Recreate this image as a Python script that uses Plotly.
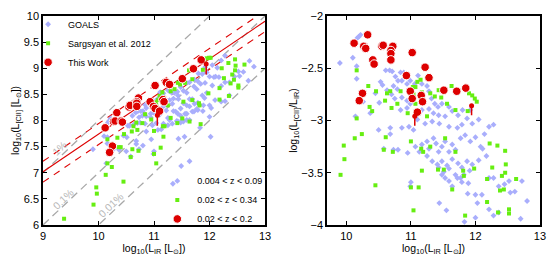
import plotly.graph_objects as go

# ---------------- data (log10 L_IR, log10 L_CII/L_IR) ----------------
goals_lir = [9.90, 10.10, 10.17, 10.19, 10.22, 10.16, 10.16, 10.14, 10.26, 10.37,
             10.53, 10.56, 10.45, 10.51, 10.61, 10.67, 10.71, 10.84, 10.89, 10.76,
             10.80, 10.86, 10.94, 10.99, 10.73, 10.79, 10.63, 10.70, 10.75, 10.86,
             10.94, 10.84, 10.94, 10.99, 11.06, 11.11, 11.17, 11.25, 11.28, 11.32,
             11.37, 11.42, 11.48, 11.28, 11.35, 11.43, 11.17, 11.10, 11.22, 11.33,
             11.44, 11.53, 11.59, 11.64, 11.73, 11.80, 11.87, 11.92, 11.95, 12.05,
             12.21, 12.28, 10.86, 10.97, 11.04, 10.68, 10.50, 11.59, 11.72, 11.79,
             10.68, 10.58, 10.73, 10.80, 10.95, 11.00, 10.99, 11.07, 11.13, 11.17,
             11.25, 11.28, 11.35, 11.39, 11.43, 11.48, 11.53, 11.59, 11.64, 11.69,
             11.77, 11.84, 11.92, 12.00, 12.08, 12.14, 11.25, 11.33, 11.41, 11.48,
             11.56, 11.64, 11.73, 11.79, 11.87, 11.95, 12.05, 12.11, 12.17, 11.43,
             11.51, 11.59, 11.69, 11.77, 11.82, 11.91, 11.59, 11.64, 11.72, 11.79,
             11.89, 11.48, 11.53, 11.44, 11.55, 11.88, 12.00, 12.10, 12.03, 12.21,
             12.28, 12.36, 11.83, 12.00, 12.21, 12.28, 12.36, 12.45, 12.52, 12.61,
             12.72, 12.80, 12.70, 12.54, 11.34, 11.49, 11.64, 12.02]
goals_ratio = [-2.45, -2.40, -2.21, -2.20, -2.18, -2.48, -2.60, -2.96, -2.82, -2.93,
               -2.63, -2.66, -2.74, -2.83, -2.52, -2.52, -2.53, -2.54, -2.54, -2.58,
               -2.62, -2.62, -2.65, -2.62, -2.67, -2.70, -2.71, -2.75, -2.79, -2.78,
               -2.81, -2.90, -2.88, -2.84, -2.65, -2.57, -2.65, -2.67, -2.72, -2.79,
               -2.84, -2.87, -2.84, -2.89, -2.93, -2.95, -2.90, -2.99, -3.03, -3.01,
               -3.03, -2.96, -2.87, -2.91, -2.95, -2.90, -2.98, -2.90, -3.03, -2.99,
               -3.06, -3.04, -3.07, -3.06, -3.09, -3.07, -3.09, -3.06, -3.07, -3.04,
               -3.13, -3.27, -3.28, -3.28, -3.31, -3.59, -3.63, -3.25, -3.30, -3.23,
               -3.20, -3.27, -3.17, -3.22, -3.30, -3.25, -3.20, -3.30, -3.23, -3.28,
               -3.17, -3.14, -3.20, -3.16, -3.25, -3.13, -3.34, -3.39, -3.42, -3.39,
               -3.43, -3.37, -3.41, -3.45, -3.39, -3.42, -3.38, -3.27, -3.34, -3.45,
               -3.49, -3.46, -3.52, -3.55, -3.52, -3.48, -3.58, -3.63, -3.55, -3.59,
               -3.60, -3.52, -3.55, -3.79, -3.86, -3.70, -3.71, -3.71, -3.79, -3.85,
               -3.91, -3.88, -3.97, -3.93, -3.55, -3.55, -3.63, -3.61, -3.58, -3.68,
               -3.58, -3.77, -3.94, -3.69, -4.55, -4.36, -4.42, -4.33]

sarg_lir = [10.16, 10.16, 10.34, 10.46, 10.36, 10.40, 10.63, 10.68, 10.60, 10.70,
            10.84, 10.79, 10.95, 11.03, 11.07, 11.10, 11.15, 11.04, 11.07, 11.17,
            11.17, 11.30, 11.37, 11.25, 11.43, 11.47, 11.63, 11.56, 11.69, 11.90,
            11.95, 11.99, 12.02, 11.88, 10.13, 10.24, 9.96, 9.97, 9.91, 10.45,
            10.58, 10.72, 10.61, 11.00, 11.00, 11.12, 11.16, 11.19, 11.30, 11.17,
            11.04, 11.42, 11.51, 11.53, 11.64, 11.69, 11.81, 11.82, 11.98, 11.84,
            12.18, 12.18, 12.22, 12.26, 12.34, 12.41, 12.47, 12.46, 12.46, 12.38,
            12.44, 12.35, 12.52, 12.52, 12.63, 9.38]
sarg_ratio = [-2.52, -2.98, -2.67, -2.72, -2.87, -2.91, -2.74, -2.72, -2.81, -2.88,
              -2.72, -2.84, -2.93, -2.68, -2.68, -2.63, -2.61, -2.75, -2.84, -2.82,
              -2.73, -2.74, -2.77, -2.96, -2.71, -2.78, -2.67, -2.84, -2.90, -2.74,
              -2.76, -2.79, -2.82, -2.91, -3.17, -3.13, -3.24, -3.37, -3.52, -3.62,
              -3.28, -3.30, -3.16, -3.20, -3.64, -3.64, -3.27, -3.30, -3.25, -3.48,
              -3.86, -3.47, -3.47, -3.17, -3.66, -3.30, -3.48, -3.53, -3.46, -3.91,
              -3.56, -3.78, -3.22, -3.45, -3.24, -3.53, -3.42, -3.29, -3.50, -3.67,
              -3.66, -3.88, -3.85, -3.89, -3.56, -3.26]

work_lir = [10.12, 10.33, 10.27, 10.30, 10.41, 10.43, 10.55, 10.57, 10.72, 10.69,
            10.69, 10.69, 11.02, 11.22, 10.93, 11.28, 10.25, 10.20, 10.99, 11.16,
            11.02, 11.18, 11.51, 11.71, 11.85, 11.10]
work_ratio = [-2.26, -2.18, -2.29, -2.31, -2.42, -2.46, -2.29, -2.28, -2.29, -2.33,
              -2.36, -2.42, -2.35, -2.49, -2.57, -2.59, -2.74, -2.81, -2.72, -2.76,
              -2.79, -2.82, -2.71, -2.72, -2.69, -2.92]

lim_lir = [11.06, 11.94]       # upper limits
lim_ratio = [-2.96, -2.86]

fit_slope, fit_intercept, fit_scatter = 0.72, 0.54, 0.2
ratio_lines = [-2, -3, -4]
ratio_labels = ["1%", "0.1%", "0.01%"]
label_lir = [9.30, 9.36, 10.22]
label_lcii = [7.47, 6.50, 6.38]

legend1_names = ["GOALS", "Sargsyan et al. 2012", "This Work"]
legend2_names = ["0.004 < z < 0.09", "0.02 < z < 0.34", "0.02 < z < 0.2"]

# ---------------- styles ----------------
BLUE = "#a9aefc"
GREEN = "#66ee11"
RED = "#dd0000"
GREY = "#a8a8a8"
FONT = "Liberation Sans, Arial, sans-serif"

sty = [
    dict(symbol="diamond", size=4.5, color=BLUE, line=dict(width=0)),
    dict(symbol="square", size=4, color=GREEN, line=dict(width=0)),
    dict(symbol="circle", size=8.5, color=RED, line=dict(width=1, color="white")),
]

lcii = lambda lir, r: [a + b for a, b in zip(lir, r)]

fig = go.Figure()

# ---- left panel reference lines ----
xl = [9, 13]
for r in ratio_lines:
    fig.add_trace(go.Scatter(x=xl, y=[x + r for x in xl], mode="lines",
                             line=dict(color=GREY, width=1.3, dash="8px,5px"),
                             showlegend=False, hoverinfo="skip", xaxis="x", yaxis="y"))
fig.add_trace(go.Scatter(x=xl, y=[fit_slope * x + fit_intercept for x in xl], mode="lines",
                         line=dict(color=RED, width=1.1), showlegend=False,
                         hoverinfo="skip", xaxis="x", yaxis="y"))
for s in (fit_scatter, -fit_scatter):
    fig.add_trace(go.Scatter(x=xl, y=[fit_slope * x + fit_intercept + s for x in xl],
                             mode="lines", line=dict(color=RED, width=1.1, dash="7px,6px"),
                             showlegend=False, hoverinfo="skip", xaxis="x", yaxis="y"))

datasets = [(goals_lir, goals_ratio), (sarg_lir, sarg_ratio), (work_lir, work_ratio)]

for i, (lx, lr) in enumerate(datasets):
    fig.add_trace(go.Scatter(x=lx, y=lcii(lx, lr), mode="markers", marker=sty[i],
                             name=legend1_names[i], legend="legend",
                             xaxis="x", yaxis="y", cliponaxis=True))
    fig.add_trace(go.Scatter(x=lx, y=lr, mode="markers", marker=sty[i],
                             showlegend=False, xaxis="x2", yaxis="y2", cliponaxis=True))

# upper limits
fig.add_trace(go.Scatter(x=lim_lir, y=lcii(lim_lir, lim_ratio), mode="markers",
                         marker=dict(symbol="circle", size=5, color=RED),
                         error_y=dict(type="data", symmetric=False, array=[0, 0],
                                      arrayminus=[0.2, 0.2], color=RED, thickness=1.5, width=0),
                         showlegend=False, xaxis="x", yaxis="y"))
fig.add_trace(go.Scatter(x=lim_lir, y=lim_ratio, mode="markers",
                         marker=dict(symbol="circle", size=5, color=RED),
                         error_y=dict(type="data", symmetric=False, array=[0, 0],
                                      arrayminus=[0.09, 0.09], color=RED, thickness=1.5, width=0),
                         showlegend=False, xaxis="x2", yaxis="y2"))

# second legend (redshift ranges)
for i in range(3):
    fig.add_trace(go.Scatter(x=[None], y=[None], mode="markers", marker=sty[i],
                             name=legend2_names[i], legend="legend2",
                             xaxis="x", yaxis="y"))

for t, x, y in zip(ratio_labels, label_lir, label_lcii):
    fig.add_annotation(x=x, y=y, xref="x", yref="y", text=t, showarrow=False,
                       textangle=-44, font=dict(family=FONT, size=10.5, color="#b8b8b8"))

ax = dict(showline=True, linecolor="black", linewidth=1.5, mirror="ticks",
          ticks="inside", ticklen=4, tickwidth=1.2, tickcolor="black",
          showgrid=False, zeroline=False, automargin=False,
          tickfont=dict(family=FONT, size=11, color="black"))
sub = "<sub>10</sub>"
fig.update_layout(
    width=551, height=260,
    margin=dict(l=43, r=11, t=10, b=35),
    paper_bgcolor="white", plot_bgcolor="white",
    font=dict(family=FONT, color="black"),
    xaxis=dict(**ax, domain=[0, 0.4467], range=[9, 13], dtick=1,
               title=dict(text=f"log{sub}(L<sub>IR</sub> [L<sub>⊙</sub>])",
                          font=dict(size=10.5), standoff=2)),
    yaxis=dict(**ax, range=[6, 10], dtick=0.5,
               title=dict(text=f"log{sub}(L<sub>[CII]</sub> [L<sub>⊙</sub>])",
                          font=dict(size=10.5), standoff=2)),
    xaxis2=dict(**ax, domain=[0.5714, 1], range=[9.7, 13], dtick=1, anchor="y2",
                title=dict(text=f"log{sub}(L<sub>IR</sub> [L<sub>⊙</sub>])",
                           font=dict(size=10.5), standoff=2)),
    yaxis2=dict(**ax, range=[-4, -2], dtick=0.5, anchor="x2",
                title=dict(text=f"log{sub}(L<sub>[CII]</sub>/L<sub>IR</sub>)",
                           font=dict(size=10.5), standoff=2)),
    legend=dict(x=-0.03, y=1.03, xanchor="left", yanchor="top",
                bgcolor="rgba(0,0,0,0)", font=dict(family=FONT, size=9),
                itemwidth=30, tracegroupgap=0),
    legend2=dict(x=0.23, y=0.12, xanchor="left", yanchor="middle",
                 bgcolor="rgba(0,0,0,0)", font=dict(family=FONT, size=9),
                 itemwidth=30, tracegroupgap=0),
)

fig.write_html("out.html", config={"displayModeBar": False},
               post_script="document.body.style.margin='0';")
